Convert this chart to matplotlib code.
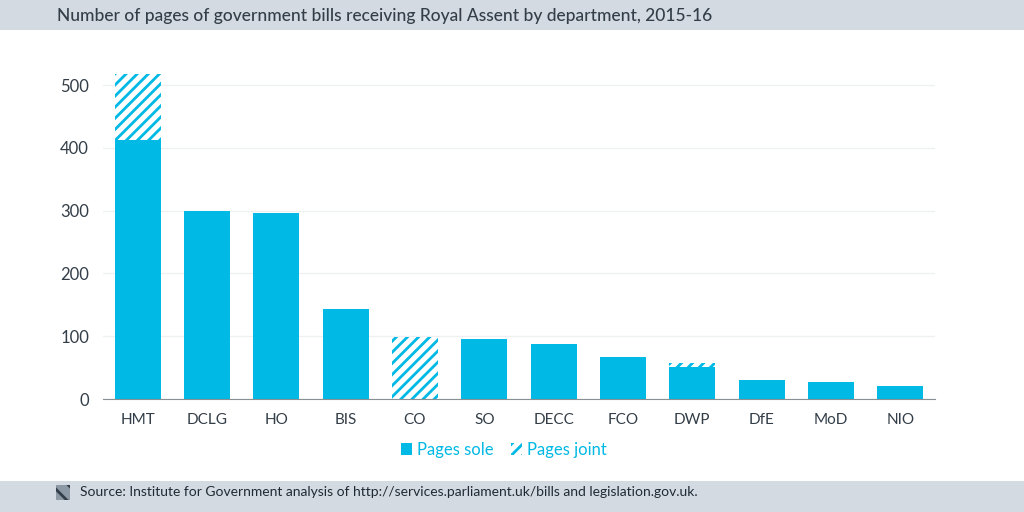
import matplotlib.pyplot as plt
from matplotlib.patches import Patch, Rectangle
import numpy as np

plt.rcParams['font.family'] = ['Lato', 'DejaVu Sans']
plt.rcParams['hatch.linewidth'] = 2.0

departments = ['HMT', 'DCLG', 'HO', 'BIS', 'CO', 'SO', 'DECC', 'FCO', 'DWP', 'DfE', 'MoD', 'NIO']
pages_sole = [413, 300, 297, 143, 0, 96, 88, 67, 51, 31, 27, 21]
pages_joint = [105, 0, 0, 0, 99, 0, 0, 0, 6, 0, 0, 0]
y_ticks = [0, 100, 200, 300, 400, 500]

CYAN = '#00b9e4'
DARK = '#333e48'
BAND = '#d3dae2'

fig = plt.figure(figsize=(10.24, 5.12), dpi=100)
fig.patch.set_facecolor('white')

# header and footer bands
fig.patches.append(Rectangle((0, 1 - 30 / 512), 1, 30 / 512, transform=fig.transFigure,
                             facecolor=BAND, edgecolor='none', zorder=0))
fig.patches.append(Rectangle((0, 0), 1, 31 / 512, transform=fig.transFigure,
                             facecolor=BAND, edgecolor='none', zorder=0))
fig.text(57 / 1024, 1 - 16 / 512, 'Number of pages of government bills receiving Royal Assent by department, 2015-16',
         fontsize=12.5, color=DARK, va='center', ha='left', fontweight='medium')
fig.patches.append(Rectangle((56 / 1024, 12 / 512), 14 / 1024, 15 / 512, transform=fig.transFigure,
                             facecolor='#8d99a5', edgecolor=DARK, hatch='\\\\', linewidth=0, zorder=1))
fig.text(80 / 1024, 20 / 512, 'Source: Institute for Government analysis of http://services.parliament.uk/bills and legislation.gov.uk.',
         fontsize=10, color='#1f2a33', va='center', ha='left')

ax = fig.add_axes([103 / 1024, 1 - 399 / 512, 832 / 1024, (399 - 60) / 512])
x = np.arange(len(departments))
ax.bar(x, pages_sole, width=0.66, color=CYAN, edgecolor='none', zorder=2)
ax.bar(x, pages_joint, width=0.66, bottom=pages_sole, facecolor='white', edgecolor=CYAN,
       hatch='///', linewidth=0, zorder=2)

ax.set_xlim(-0.5, len(departments) - 0.5)
ax.set_ylim(0, 540)
ax.set_xticks(x)
ax.set_xticklabels(departments)
ax.set_yticks(y_ticks)
ax.tick_params(length=0, labelsize=11, colors=DARK, pad=10)
ax.tick_params(axis='y', pad=10, labelsize=12)
ax.grid(axis='y', color='#eef0f2', linewidth=1, zorder=0)
for s in ['top', 'right', 'left']:
    ax.spines[s].set_visible(False)
ax.spines['bottom'].set_color('#8a8f94')
ax.spines['bottom'].set_zorder(3)

handles = [Patch(facecolor=CYAN, edgecolor='none', label='Pages sole'),
           Patch(facecolor='white', edgecolor=CYAN, hatch='///', linewidth=0, label='Pages joint')]
leg = fig.legend(handles=handles, loc='center', bbox_to_anchor=(504 / 1024, 1 - 450 / 512), ncol=2,
                 frameon=False, fontsize=12, handlelength=0.7, handleheight=0.7,
                 handletextpad=0.3, columnspacing=1.0)
for t in leg.get_texts():
    t.set_color(CYAN)

fig.savefig('out.png', dpi=100)
